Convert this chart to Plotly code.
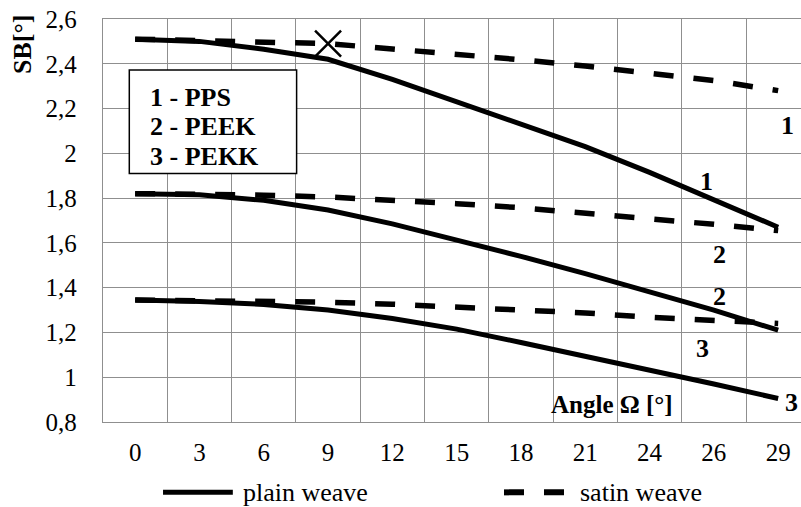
import plotly.graph_objects as go

# Weave angle categories (equally spaced on the axis)
angles = ["0", "3", "6", "9", "12", "15", "18", "21", "24", "26", "29"]

# SB [°] for plain weave
plain_pps = [2.51, 2.50, 2.465, 2.42, 2.33, 2.23, 2.125, 2.03, 1.915, 1.795, 1.67]
plain_peek = [1.82, 1.815, 1.79, 1.747, 1.685, 1.615, 1.54, 1.463, 1.383, 1.30, 1.21]
plain_pekk = [1.345, 1.338, 1.325, 1.30, 1.262, 1.215, 1.155, 1.095, 1.032, 0.97, 0.905]

# SB [°] for satin weave
satin_pps = [2.51, 2.505, 2.50, 2.49, 2.466, 2.445, 2.418, 2.39, 2.36, 2.325, 2.28]
satin_peek = [1.82, 1.818, 1.813, 1.805, 1.793, 1.775, 1.757, 1.733, 1.71, 1.683, 1.655]
satin_pekk = [1.345, 1.343, 1.34, 1.335, 1.326, 1.315, 1.303, 1.287, 1.268, 1.255, 1.24]

y_ticks = [0.8, 1.0, 1.2, 1.4, 1.6, 1.8, 2.0, 2.2, 2.4, 2.6]
y_tick_text = ["0,8", "1", "1,2", "1,4", "1,6", "1,8", "2", "2,2", "2,4", "2,6"]

marked_index = 3  # crossing point highlighted on the PPS satin curve

SERIF = "Tinos"
GRID = "#8f8f8f"

idx = list(range(len(angles)))

fig = go.Figure()

for values in (plain_pps, plain_peek, plain_pekk):
    fig.add_trace(go.Scatter(x=idx, y=values, mode="lines",
                             line=dict(color="black", width=5),
                             showlegend=False, hoverinfo="skip"))
for values in (satin_pps, satin_peek, satin_pekk):
    fig.add_trace(go.Scatter(x=idx, y=values, mode="lines",
                             line=dict(color="black", width=5.5, dash="20px,20px"),
                             showlegend=False, hoverinfo="skip"))

fig.add_trace(go.Scatter(x=[idx[marked_index]], y=[satin_pps[marked_index]], mode="markers",
                         marker=dict(symbol="x-thin-open", size=26, color="black",
                                     line=dict(color="black", width=2.5)),
                         showlegend=False, hoverinfo="skip"))

annotations = [
    dict(text="<b>SB[°]</b>", xref="paper", yref="paper", x=-0.1146, y=0.938,
         xanchor="center", yanchor="middle",
         textangle=-90, showarrow=False, font=dict(family=SERIF, size=26, color="black")),
    dict(text="<b>Angle Ω [°]</b>", xref="x", yref="y", x=7.41, y=0.878,
         xanchor="center", yanchor="middle",
         showarrow=False, font=dict(family=SERIF, size=25, color="black")),
]
for label, yv in (("1 - PPS", 2.250), ("2 - PEEK", 2.119), ("3 - PEKK", 1.985)):
    annotations.append(dict(text="<b>%s</b>" % label, xref="x", yref="y", x=0.2, y=yv,
                            xanchor="left", yanchor="middle", showarrow=False,
                            font=dict(family=SERIF, size=26, color="black")))
for label, xv, yv in (("1", 10.15, 2.126), ("1", 8.88, 1.873), ("2", 9.09, 1.549),
                      ("2", 9.09, 1.359), ("3", 8.83, 1.128), ("3", 10.2, 0.889)):
    annotations.append(dict(text="<b>%s</b>" % label, xref="x", yref="y", x=xv, y=yv,
                            xanchor="center", yanchor="middle",
                            showarrow=False, font=dict(family=SERIF, size=26, color="black")))

# bottom key
annotations.append(dict(text="plain weave", xref="paper", yref="paper", x=0.1977, y=-0.1746,
                        xanchor="left", yanchor="middle", showarrow=False,
                        font=dict(family=SERIF, size=26, color="black")))
annotations.append(dict(text="satin weave", xref="paper", yref="paper", x=0.6805, y=-0.1746,
                        xanchor="left", yanchor="middle", showarrow=False,
                        font=dict(family=SERIF, size=26, color="black")))

shapes = [
    dict(type="rect", xref="x", yref="y", x0=-0.091, x1=2.511, y0=1.910, y1=2.372,
         line=dict(color="black", width=1.5), fillcolor="white", layer="between"),
    dict(type="line", xref="paper", yref="paper", x0=0.086, x1=0.186, y0=-0.1746, y1=-0.1746,
         line=dict(color="black", width=5)),
    dict(type="line", xref="paper", yref="paper", x0=0.5745, x1=0.6605, y0=-0.1746, y1=-0.1746,
         line=dict(color="black", width=6, dash="20px,20px")),
]

fig.update_layout(
    width=801, height=507,
    margin=dict(l=103, r=0, t=19, b=85.3, pad=0),
    plot_bgcolor="white", paper_bgcolor="white",
    showlegend=False,
    font=dict(family=SERIF, color="black"),
    annotations=annotations,
    shapes=shapes,
    xaxis=dict(range=[-0.5, 10.355], tickvals=idx, ticktext=angles, ticks="",
               showgrid=False, zeroline=False, fixedrange=True,
               tickfont=dict(family=SERIF, size=25, color="black"),
               ticklabelstandoff=8,
               minor=dict(tickvals=[i - 0.5 for i in range(len(angles) + 1)],
                          showgrid=True, gridcolor=GRID, gridwidth=1.3, ticks=""),
               showline=True, linecolor=GRID, linewidth=1.3, mirror=True),
    yaxis=dict(range=[0.8, 2.6], tickvals=y_ticks, ticktext=y_tick_text, ticks="",
               showgrid=True, gridcolor=GRID, gridwidth=1.3, zeroline=False, fixedrange=True,
               tickfont=dict(family=SERIF, size=25, color="black"),
               ticklabelstandoff=20,
               showline=True, linecolor=GRID, linewidth=1.3, mirror=False),
)

fig.write_html("out.html")
